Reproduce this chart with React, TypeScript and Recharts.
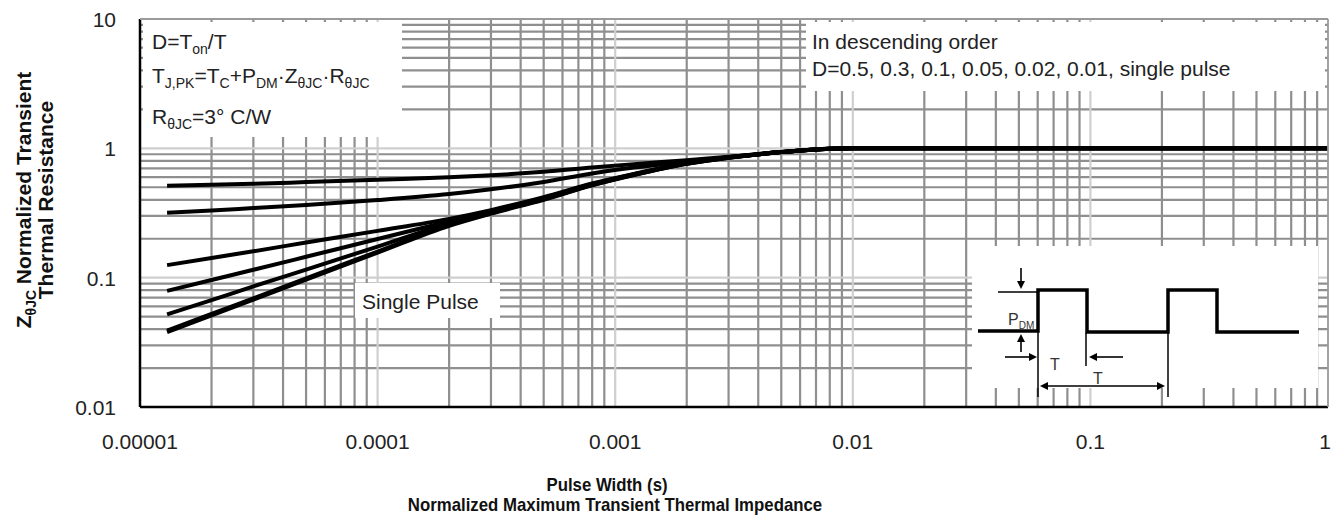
import React from 'react';
import { LineChart, Line, XAxis, YAxis, CartesianGrid } from 'recharts';

// pulse width (s) sample points
const pulseWidth = [
  1.3e-5, 2e-5, 3e-5, 5e-5, 1e-4, 2e-4, 3e-4, 5e-4, 8e-4, 1.2e-3, 2e-3, 3e-3, 5e-3, 8e-3, 1e-2, 1e-1, 1,
];

// normalized Z(thJC) per duty cycle, descending order
const zD05 = [0.514, 0.522, 0.532, 0.548, 0.572, 0.597, 0.618, 0.658, 0.71, 0.755, 0.81, 0.86, 0.935, 0.993, 1, 1, 1];
const zD03 = [0.318, 0.33, 0.345, 0.365, 0.398, 0.443, 0.482, 0.55, 0.64, 0.71, 0.79, 0.855, 0.935, 0.993, 1, 1, 1];
const zD01 = [0.125, 0.142, 0.16, 0.187, 0.23, 0.285, 0.333, 0.42, 0.535, 0.635, 0.768, 0.852, 0.935, 0.993, 1, 1, 1];
const zD005 = [0.079, 0.096, 0.115, 0.145, 0.199, 0.272, 0.327, 0.414, 0.53, 0.632, 0.765, 0.85, 0.935, 0.993, 1, 1, 1];
const zD002 = [0.052, 0.067, 0.0856, 0.1155, 0.174, 0.263, 0.321, 0.408, 0.525, 0.628, 0.762, 0.848, 0.935, 0.993, 1, 1, 1];
const zD001 = [0.039, 0.0525, 0.0693, 0.0988, 0.159, 0.256, 0.316, 0.403, 0.52, 0.624, 0.76, 0.846, 0.935, 0.993, 1, 1, 1];
const zSingle = [0.038, 0.051, 0.0675, 0.0965, 0.156, 0.252, 0.313, 0.4, 0.518, 0.622, 0.758, 0.845, 0.935, 0.993, 1, 1, 1];

const seriesKeys = ['d05', 'd03', 'd01', 'd005', 'd002', 'd001', 'single'];
const seriesValues = [zD05, zD03, zD01, zD005, zD002, zD001, zSingle];

const xTicks = [1e-5, 1e-4, 1e-3, 1e-2, 1e-1, 1];
const xTickLabels = ['0.00001', '0.0001', '0.001', '0.01', '0.1', '1'];
const yTicks = [0.01, 0.1, 1, 10];
const yTickLabels = ['0.01', '0.1', '1', '10'];

// log grid: 2..9 inside every decade, decade lines drawn lighter
const gridSteps = [2, 3, 4, 5, 6, 7, 8, 9];
const xDecades = [1e-5, 1e-4, 1e-3, 1e-2, 1e-1];
const yDecades = [0.01, 0.1, 1];
const xMinor = xDecades.flatMap((d) => gridSteps.map((m) => +(d * m).toPrecision(3)));
const yMinor = yDecades.flatMap((d) => gridSteps.map((m) => +(d * m).toPrecision(3)));
const xMajor = [1e-4, 1e-3, 1e-2, 1e-1];
const yMajor = [0.1, 1];

const rows = pulseWidth.map((t, i) => {
  const row: Record<string, number> = { t };
  seriesKeys.forEach((k, s) => {
    row[k] = seriesValues[s][i];
  });
  return row;
});

const FONT = '"Liberation Sans", Arial, sans-serif';
const W = 1332;
const H = 520;

const XTick = ({ x, y, payload }: any) => {
  const i = xTicks.indexOf(payload.value);
  const last = i === xTicks.length - 1;
  return (
    <text x={last ? x - 3 : x} y={y + 42} textAnchor="middle" fontSize={21} fill="#222" fontFamily={FONT}>
      {i >= 0 ? xTickLabels[i] : ''}
    </text>
  );
};

const YTick = ({ x, y, payload }: any) => {
  const i = yTicks.indexOf(payload.value);
  return (
    <text x={x - 24} y={y + 8} textAnchor="end" fontSize={21} fill="#222" fontFamily={FONT}>
      {i >= 0 ? yTickLabels[i] : ''}
    </text>
  );
};

// text with subscripts: [text, isSub]
const rich = (parts: [string, boolean][], size: number, subSize: number, shift: number) => {
  let prevSub = false;
  return parts.map(([s, sub], i) => {
    let dy = 0;
    if (sub && !prevSub) dy = shift;
    if (!sub && prevSub) dy = -shift;
    prevSub = sub;
    return (
      <tspan key={i} dy={dy} fontSize={sub ? subSize : size}>
        {s}
      </tspan>
    );
  });
};

const Arrow = ({ x1, y1, x2, y2 }: { x1: number; y1: number; x2: number; y2: number }) => {
  const a = Math.atan2(y2 - y1, x2 - x1);
  const L = 8;
  const hw = 4;
  const bx = x2 - L * Math.cos(a);
  const by = y2 - L * Math.sin(a);
  const px = -Math.sin(a) * hw;
  const py = Math.cos(a) * hw;
  return (
    <g>
      <line x1={x1} y1={y1} x2={bx} y2={by} stroke="#000" strokeWidth={1.6} />
      <polygon points={`${x2},${y2} ${bx + px},${by + py} ${bx - px},${by - py}`} fill="#000" />
    </g>
  );
};

const Overlay = () => (
  <svg
    width={W}
    height={H}
    style={{ position: 'absolute', left: 0, top: 0, pointerEvents: 'none' }}
    fontFamily={FONT}
  >
    {/* frame top / right */}
    <line x1={140} y1={19} x2={1328} y2={19} stroke="#9a9a9a" strokeWidth={1.8} />
    <line x1={1328} y1={19} x2={1328} y2={407} stroke="#9a9a9a" strokeWidth={1.8} />

    {/* white label boxes */}
    <rect x={143} y={22} width={259} height={115} fill="#fff" />
    <rect x={806} y={22} width={519} height={69} fill="#fff" />
    <rect x={355} y={283} width={145} height={35} fill="#fff" />
    <rect x={972} y={246} width={346} height={142} fill="#fff" />

    <g fill="#222" fontSize={21}>
      <text x={152} y={49}>
        {rich([['D=T', false], ['on', true], ['/T', false]], 21, 14, 5)}
      </text>
      <text x={152} y={83}>
        {rich(
          [
            ['T', false],
            ['J,PK', true],
            ['=T', false],
            ['C', true],
            ['+P', false],
            ['DM', true],
            ['\u00b7Z', false],
            ['\u03b8JC', true],
            ['\u00b7R', false],
            ['\u03b8JC', true],
          ],
          21,
          14,
          5
        )}
      </text>
      <text x={152} y={124}>
        {rich([['R', false], ['\u03b8JC', true], ['=3\u00b0  C/W', false]], 21, 14, 5)}
      </text>

      <text x={812} y={49}>In descending order</text>
      <text x={812} y={76}>D=0.5, 0.3, 0.1, 0.05, 0.02, 0.01, single pulse</text>

      <text x={362} y={309}>Single Pulse</text>
    </g>

    {/* pulse train inset */}
    <path
      d="M978,331 H1038 V290 H1087 V332 H1168 V290 H1217 V332 H1299"
      fill="none"
      stroke="#000"
      strokeWidth={3.5}
    />
    <g stroke="#000" strokeWidth={1.5}>
      <line x1={998} y1={292} x2={1038} y2={292} />
      <line x1={1038} y1={331} x2={1038} y2={397} />
      <line x1={1086} y1={333} x2={1086} y2={366} />
      <line x1={1168} y1={332} x2={1168} y2={397} />
    </g>
    <Arrow x1={1021} y1={268} x2={1021} y2={289} />
    <Arrow x1={1021} y1={352} x2={1021} y2={334} />
    <Arrow x1={1005} y1={357} x2={1037} y2={357} />
    <Arrow x1={1123} y1={357} x2={1089} y2={357} />
    <Arrow x1={1100} y1={386} x2={1040} y2={386} />
    <Arrow x1={1100} y1={386} x2={1165} y2={386} />
    <g fill="#333" fontSize={16}>
      <text x={1008} y={325}>
        {rich([['P', false], ['DM', true]], 16, 10, 4)}
      </text>
      <text x={1050} y={370}>T</text>
      <text x={1093} y={384}>T</text>
    </g>

    {/* axis titles */}
    <g fill="#111" fontWeight="bold">
      <text transform="translate(31,200) rotate(-90)" textAnchor="middle" fontSize={21}>
        {rich([['Z', false], ['\u03b8JC', true], [' Normalized Transient', false]], 21, 14, 5)}
      </text>
      <text transform="translate(53,200) rotate(-90)" textAnchor="middle" fontSize={21}>
        Thermal Resistance
      </text>
      <text transform="translate(607,491) scale(1,1.12)" textAnchor="middle" fontSize={16.8}>
        Pulse Width (s)
      </text>
      <text transform="translate(615,511) scale(1,1.12)" textAnchor="middle" fontSize={16.8}>
        Normalized Maximum Transient Thermal Impedance
      </text>
    </g>
  </svg>
);

export default function App() {
  return (
    <div style={{ position: 'absolute', left: 0, top: 0, width: W, height: H, background: '#fff' }}>
      <LineChart width={W} height={H} data={rows} margin={{ top: 19, right: 4, bottom: 0, left: 0 }}>
        <CartesianGrid
          stroke="#8f8f8f"
          strokeWidth={2.2}
          verticalValues={xMinor}
          horizontalValues={yMinor}
        />
        <CartesianGrid
          stroke="#cfcfcf"
          strokeWidth={2.2}
          verticalValues={xMajor}
          horizontalValues={yMajor}
        />
        <XAxis
          type="number"
          dataKey="t"
          scale="log"
          domain={[1e-5, 1]}
          ticks={xTicks}
          allowDataOverflow
          height={113}
          tickSize={0}
          tickMargin={0}
          tickLine={false}
          axisLine={{ stroke: '#000', strokeWidth: 2.5 }}
          tick={<XTick />}
          interval={0}
        />
        <YAxis
          type="number"
          scale="log"
          domain={[0.01, 10]}
          ticks={yTicks}
          allowDataOverflow
          width={140}
          tickSize={0}
          tickMargin={0}
          tickLine={false}
          axisLine={{ stroke: '#000', strokeWidth: 2.5 }}
          tick={<YTick />}
          interval={0}
        />
        {seriesKeys.map((k) => (
          <Line
            key={k}
            dataKey={k}
            type="monotone"
            stroke="#000"
            strokeWidth={4}
            dot={false}
            isAnimationActive={false}
          />
        ))}
      </LineChart>
      <Overlay />
    </div>
  );
}
